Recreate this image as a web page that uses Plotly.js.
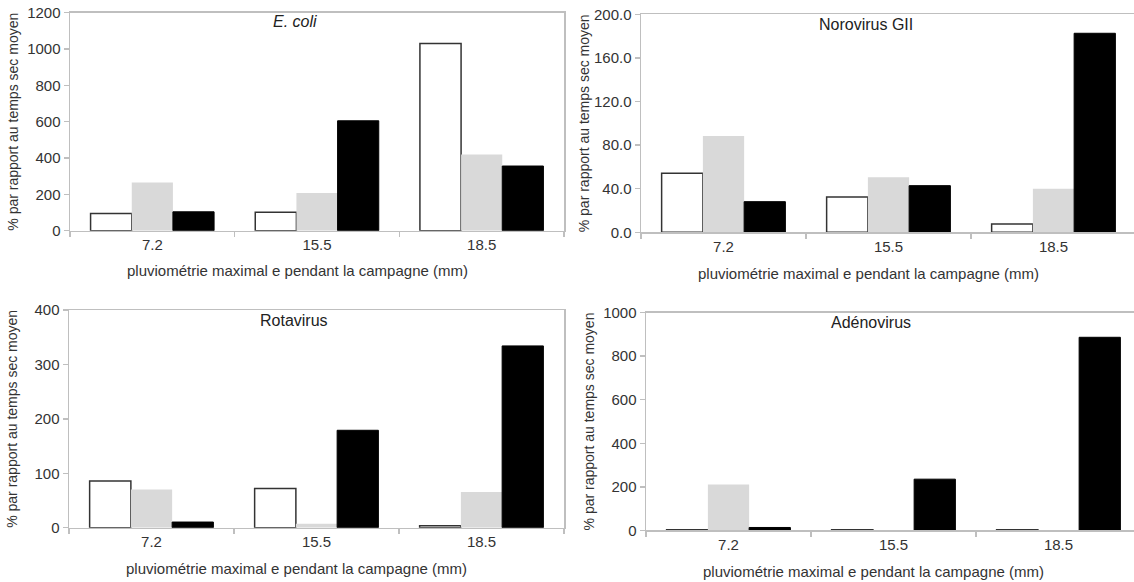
<!DOCTYPE html>
<html>
<head>
<meta charset="utf-8">
<script src="https://cdn.plot.ly/plotly-3.0.1.min.js"></script>
<style>
html,body{margin:0;padding:0;overflow:hidden;background:#fff;width:1134px;height:582px;}
#chart{width:1146px;height:582px;}
</style>
</head>
<body>
<div id="chart"></div>
<script>
// ---- data ----
const categories = ['7.2', '15.5', '18.5'];

const ecoliWhite = [95, 101, 1031];
const ecoliGray  = [266, 207, 420];
const ecoliBlack = [104, 605, 356];

const noroWhite = [54.1, 32.4, 7.6];
const noroGray  = [88.4, 50.5, 40.0];
const noroBlack = [28.1, 42.8, 182.6];

const rotaWhite = [86, 72, 3.7];
const rotaGray  = [70, 7.3, 65.4];
const rotaBlack = [10.4, 179, 334];

const adenoWhite = [3, 3, 3];
const adenoGray  = [210, 0, 0];
const adenoBlack = [13, 235, 887];

const panelTitles = ['<i>E. coli</i>', 'Norovirus GII', 'Rotavirus', 'Adénovirus'];
const yTickVals = [
  [0, 200, 400, 600, 800, 1000, 1200],
  [0, 40, 80, 120, 160, 200],
  [0, 100, 200, 300, 400],
  [0, 200, 400, 600, 800, 1000]
];
const yTickFormats = ['d', '.1f', 'd', 'd'];
const xTitle = 'pluviométrie maximal e pendant la campagne (mm)';
const yTitle = '% par rapport au temps sec moyen';
const seriesNames = ['série 1', 'série 2', 'série 3'];

// ---- layout geometry (pixels) ----
const W = 1146, H = 582;
const boxes = [
  {x0: 70,  x1: 564,  y0: 12.7, y1: 230.7, tx: 295, ty: 22,  xty: 270.5, standoff: 5},
  {x0: 641, x1: 1136, y0: 14.3, y1: 232.3, tx: 866, ty: 24.5, xty: 273, standoff: 1},
  {x0: 69,  x1: 564,  y0: 310,  y1: 527.7, tx: 294, ty: 320, xty: 568, standoff: 13},
  {x0: 646, x1: 1141, y0: 312.7, y1: 530.3, tx: 871, ty: 322, xty: 571.5, standoff: 5}
];
const px = v => v / W;
const py = v => 1 - v / H;

const panels = [
  [ecoliWhite, ecoliGray, ecoliBlack],
  [noroWhite, noroGray, noroBlack],
  [rotaWhite, rotaGray, rotaBlack],
  [adenoWhite, adenoGray, adenoBlack]
];

const seriesStyle = [
  {color: '#ffffff', line: {color: '#333333', width: 1.5}},
  {color: '#d9d9d9', line: {color: '#d9d9d9', width: 0}},
  {color: '#000000', line: {color: '#000000', width: 1}}
];

const axisColor = '#bfbfbf';
const textColor = '#333333';
const fontFam = '"Liberation Sans", Arial, sans-serif';

const traces = [];
const layout = {
  width: W, height: H,
  margin: {l: 0, r: 0, t: 0, b: 0},
  paper_bgcolor: '#ffffff',
  plot_bgcolor: '#ffffff',
  showlegend: false,
  barmode: 'group',
  bargap: 0.25,
  bargroupgap: 0,
  font: {family: fontFam, color: textColor, size: 15},
  annotations: []
};

panels.forEach((series, i) => {
  const n = i + 1;
  const xa = n === 1 ? 'x' : 'x' + n;
  const ya = n === 1 ? 'y' : 'y' + n;
  series.forEach((vals, s) => {
    traces.push({
      type: 'bar',
      name: seriesNames[s],
      x: categories,
      y: vals,
      xaxis: xa, yaxis: ya,
      marker: seriesStyle[s],
      hoverinfo: 'x+y+name'
    });
  });
  const b = boxes[i];
  const yv = yTickVals[i];
  layout['xaxis' + (n === 1 ? '' : n)] = {
    domain: [px(b.x0), px(b.x1)],
    anchor: ya,
    type: 'category',
    tickson: 'boundaries',
    ticks: 'outside', ticklen: 5, tickwidth: 1.5, tickcolor: axisColor,
    showline: true, linecolor: axisColor, linewidth: 1.5, mirror: true,
    showgrid: false, zeroline: false,
    tickfont: {size: 15, color: textColor, family: fontFam}
  };
  layout['yaxis' + (n === 1 ? '' : n)] = {
    domain: [py(b.y1), py(b.y0)],
    anchor: xa,
    range: [0, yv[yv.length - 1]],
    tickvals: yv,
    tickformat: yTickFormats[i],
    ticks: 'outside', ticklen: 5, tickwidth: 1.5, tickcolor: axisColor,
    showline: true, linecolor: axisColor, linewidth: 1.5, mirror: true,
    showgrid: false, zeroline: false,
    tickfont: {size: 15, color: textColor, family: fontFam},
    title: {text: yTitle, font: {size: 14, color: textColor, family: fontFam}, standoff: b.standoff}
  };
  layout.annotations.push({
    text: panelTitles[i],
    xref: 'paper', yref: 'paper',
    x: px(b.tx), y: py(b.ty),
    xanchor: 'center', yanchor: 'middle',
    showarrow: false,
    font: {size: 16, color: '#222222', family: fontFam}
  });
  // x-axis title (placed off-centre, as in the reference)
  layout.annotations.push({
    text: xTitle,
    xref: 'paper', yref: 'paper',
    x: px(b.tx + 2), y: py(b.xty),
    xanchor: 'center', yanchor: 'middle',
    showarrow: false,
    font: {size: 15, color: textColor, family: fontFam}
  });
});

Plotly.newPlot('chart', traces, layout, {displayModeBar: false, staticPlot: true});
</script>
</body>
</html>
